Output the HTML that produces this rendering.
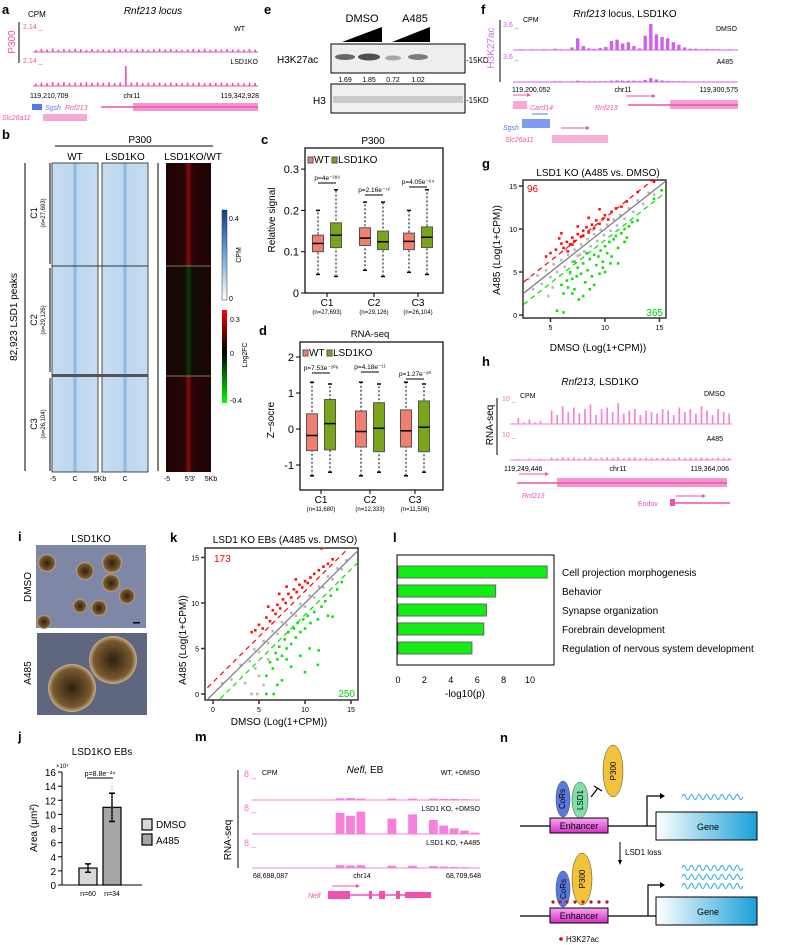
<!DOCTYPE html>
<html><head><meta charset="utf-8"><style>
body{margin:0;background:#fff}
svg{display:block;font-family:"Liberation Sans",sans-serif}
text{font-family:"Liberation Sans",sans-serif}
</style></head><body>
<svg id="fig" width="800" height="945" viewBox="0 0 800 945" xmlns="http://www.w3.org/2000/svg">
<defs>
<linearGradient id="cpmGrad" x1="0" y1="1" x2="0" y2="0"><stop offset="0" stop-color="#ffffff"/><stop offset="0.5" stop-color="#6fa8dc"/><stop offset="1" stop-color="#0b3f86"/></linearGradient>
<linearGradient id="fcGrad" x1="0" y1="1" x2="0" y2="0"><stop offset="0" stop-color="#00ff00"/><stop offset="0.55" stop-color="#000"/><stop offset="1" stop-color="#ff0000"/></linearGradient>
<linearGradient id="hmBlue" x1="0" x2="1"><stop offset="0" stop-color="#c7ddf1"/><stop offset="0.45" stop-color="#bdd7ef"/><stop offset="0.5" stop-color="#7fb2de"/><stop offset="0.55" stop-color="#bdd7ef"/><stop offset="1" stop-color="#c7ddf1"/></linearGradient>
<linearGradient id="hmRed" x1="0" x2="1"><stop offset="0" stop-color="#1c0303"/><stop offset="0.42" stop-color="#2a0505"/><stop offset="0.5" stop-color="#8a0c0c"/><stop offset="0.58" stop-color="#2a0505"/><stop offset="1" stop-color="#1c0303"/></linearGradient>
<linearGradient id="hmGreen" x1="0" x2="1"><stop offset="0" stop-color="#1a0604"/><stop offset="0.42" stop-color="#140d04"/><stop offset="0.5" stop-color="#0b3a0b"/><stop offset="0.58" stop-color="#140d04"/><stop offset="1" stop-color="#1a0604"/></linearGradient>
<linearGradient id="geneGrad" x1="0" x2="1"><stop offset="0" stop-color="#ffffff"/><stop offset="1" stop-color="#1aa0d8"/></linearGradient>
<linearGradient id="enhGrad" x1="0" y1="0" x2="0" y2="1"><stop offset="0" stop-color="#f7a8f0"/><stop offset="1" stop-color="#d42fc8"/></linearGradient>
<radialGradient id="ebGrad"><stop offset="0" stop-color="#2e2010"/><stop offset="0.8" stop-color="#7a5a30"/><stop offset="1" stop-color="#c8b088"/></radialGradient>
<clipPath id="clipG"><rect x="523" y="180" width="143" height="138"/></clipPath>
<clipPath id="clipK"><rect x="205" y="548" width="153" height="152"/></clipPath>
</defs>

<!-- Panel a -->
<g>
<text x="2" y="14" font-size="13" font-weight="bold">a</text>
<text x="28" y="17" font-size="8">CPM</text>
<text x="153" y="14" font-size="10" font-style="italic" text-anchor="middle">Rnf213 locus</text>
<line x1="19" y1="22" x2="19" y2="63" stroke="#000" stroke-width="1"/>
<text x="15" y="42" font-size="10" fill="#f0509a" transform="rotate(-90 15 42)" text-anchor="middle">P300</text>
<text x="23" y="29" font-size="7" fill="#f050b0">2.14 _</text>
<text x="245" y="31" font-size="7" text-anchor="end">WT</text>
<text x="23" y="63" font-size="7" fill="#f050b0">2.14 _</text>
<text x="258" y="64" font-size="7" text-anchor="end">LSD1KO</text>
<g id="trackA"></g>
<text x="30" y="98" font-size="7">119,210,709</text>
<text x="132" y="98" font-size="7" text-anchor="middle">chr11</text>
<text x="259" y="98" font-size="7" text-anchor="end">119,342,928</text>
<rect x="32" y="104" width="10" height="6" fill="#4f79f0"/>
<text x="45" y="110" font-size="7" font-style="italic" fill="#4f79f0">Sgsh</text>
<text x="65" y="110" font-size="7" font-style="italic" fill="#f050b0">Rnf213</text>
<line x1="101" y1="107" x2="258" y2="107" stroke="#f050b0" stroke-width="1.5"/>
<rect x="133" y="103" width="125" height="8" fill="#f050b0" opacity="0.6"/>
<text x="2" y="120" font-size="7" font-style="italic" fill="#f050b0">Slc26a11</text>
<rect x="43" y="114" width="44" height="7" fill="#f050b0" opacity="0.5"/>
</g>

<!-- Panel b -->
<g>
<text x="2" y="139" font-size="13" font-weight="bold">b</text>
<text x="140" y="143" font-size="10" text-anchor="middle">P300</text>
<line x1="55" y1="146" x2="213" y2="146" stroke="#000"/>
<text x="75" y="160" font-size="10" text-anchor="middle">WT</text>
<text x="125" y="160" font-size="10" text-anchor="middle">LSD1KO</text>
<text x="193" y="160" font-size="10" text-anchor="middle">LSD1KO/WT</text>
<rect x="52" y="163" width="46" height="309" fill="url(#hmBlue)" stroke="#222" stroke-width="0.8"/>
<rect x="102" y="163" width="46" height="309" fill="url(#hmBlue)" stroke="#222" stroke-width="0.8"/>
<rect x="166" y="163" width="45" height="103" fill="url(#hmRed)"/>
<rect x="166" y="266" width="45" height="110" fill="url(#hmGreen)"/>
<rect x="166" y="376" width="45" height="96" fill="url(#hmRed)"/>
<line x1="52" y1="266" x2="148" y2="266" stroke="#333" stroke-width="1"/>
<rect x="52" y="374" width="96" height="3" fill="#555"/>
<line x1="166" y1="266" x2="211" y2="266" stroke="#999" stroke-width="0.8"/>
<line x1="166" y1="376" x2="211" y2="376" stroke="#999" stroke-width="0.8"/>
<line x1="25" y1="163" x2="25" y2="471" stroke="#000" stroke-width="1"/>
<text x="17" y="317" font-size="10" text-anchor="middle" transform="rotate(-90 17 317)">82,923 LSD1 peaks</text>
<line x1="50" y1="163" x2="50" y2="264" stroke="#000"/>
<line x1="50" y1="268" x2="50" y2="372" stroke="#000"/>
<line x1="50" y1="378" x2="50" y2="471" stroke="#000"/>
<line x1="158" y1="163" x2="158" y2="471" stroke="#000"/>
<text x="37" y="213" font-size="9" text-anchor="middle" transform="rotate(-90 37 213)">C1</text>
<text x="45" y="213" font-size="6" text-anchor="middle" transform="rotate(-90 45 213)">(n=27,693)</text>
<text x="37" y="320" font-size="9" text-anchor="middle" transform="rotate(-90 37 320)">C2</text>
<text x="45" y="320" font-size="6" text-anchor="middle" transform="rotate(-90 45 320)">(n=29,126)</text>
<text x="37" y="424" font-size="9" text-anchor="middle" transform="rotate(-90 37 424)">C3</text>
<text x="45" y="424" font-size="6" text-anchor="middle" transform="rotate(-90 45 424)">(n=26,104)</text>
<g font-size="7">
<text x="53" y="481" text-anchor="middle">-5</text><text x="75" y="481" text-anchor="middle">C</text><text x="100" y="481" text-anchor="middle">5Kb</text><text x="125" y="481" text-anchor="middle">C</text>
<text x="167" y="481" text-anchor="middle">-5</text><text x="190" y="481" text-anchor="middle">5′3′</text><text x="211" y="481" text-anchor="middle">5Kb</text>
</g>
<rect x="222" y="210" width="5" height="90" fill="url(#cpmGrad)" stroke="#333" stroke-width="0.5"/>
<text x="229" y="221" font-size="7">0.4</text>
<text x="229" y="301" font-size="7">0</text>
<text x="241" y="255" font-size="7" text-anchor="middle" transform="rotate(-90 241 255)">CPM</text>
<rect x="222" y="310" width="5" height="93" fill="url(#fcGrad)"/>
<text x="230" y="322" font-size="7">0.3</text>
<text x="230" y="356" font-size="7">0</text>
<text x="230" y="403" font-size="7">-0.4</text>
<text x="247" y="355" font-size="7" text-anchor="middle" transform="rotate(-90 247 355)">Log2FC</text>
</g>

<!-- Panel c -->
<g id="panelC">
<text x="261" y="144" font-size="13" font-weight="bold">c</text>
<text x="373" y="144" font-size="10" text-anchor="middle">P300</text>
<rect x="305" y="148" width="138" height="145" fill="none" stroke="#000" stroke-width="1.2"/>
<text x="275" y="220" font-size="10" text-anchor="middle" transform="rotate(-90 275 220)">Relative signal</text>
</g>

<!-- Panel d -->
<g id="panelD">
<text x="259" y="335" font-size="13" font-weight="bold">d</text>
<text x="370" y="337" font-size="9.5" text-anchor="middle">RNA-seq</text>
<rect x="300" y="342" width="143" height="148" fill="none" stroke="#000" stroke-width="1.2"/>
<text x="274" y="420" font-size="10" text-anchor="middle" transform="rotate(-90 274 420)">Z−socre</text>
</g>

<!-- Panel e -->
<g>
<text x="264" y="14" font-size="13" font-weight="bold">e</text>
<text x="362" y="22" font-size="11" text-anchor="middle">DMSO</text>
<text x="415" y="22" font-size="11" text-anchor="middle">A485</text>
<polygon points="342,42 382,42 382,27" fill="#000"/>
<polygon points="392,42 430,42 430,27" fill="#000"/>
<rect x="331" y="44" width="134" height="29" fill="#eee" stroke="#000" stroke-width="1"/>
<ellipse cx="345" cy="57" rx="10" ry="3" fill="#444" opacity="0.8"/>
<ellipse cx="369" cy="57" rx="11" ry="3.5" fill="#333" opacity="0.85"/>
<ellipse cx="393" cy="58" rx="8" ry="2.5" fill="#777" opacity="0.6"/>
<ellipse cx="418" cy="57" rx="10" ry="3" fill="#555" opacity="0.75"/>
<text x="277" y="63" font-size="10">H3K27ac</text>
<text x="466" y="63" font-size="8">-15KD</text>
<g font-size="7" text-anchor="middle"><text x="345" y="82">1.69</text><text x="369" y="82">1.85</text><text x="393" y="82">0.72</text><text x="418" y="82">1.02</text></g>
<rect x="331" y="84" width="134" height="29" fill="#f0f0f0" stroke="#000" stroke-width="1"/>
<rect x="333" y="96" width="130" height="7" fill="#999" opacity="0.45"/>
<text x="313" y="104" font-size="10">H3</text>
<text x="466" y="103" font-size="8">-15KD</text>
</g>

<!-- Panel f -->
<g>
<text x="481" y="14" font-size="13" font-weight="bold">f</text>
<text x="625" y="17" font-size="10" text-anchor="middle"><tspan font-style="italic">Rnf213</tspan> locus, LSD1KO</text>
<text x="494" y="48" font-size="10" fill="#d070e8" text-anchor="middle" transform="rotate(-90 494 48)">H3K27ac</text>
<line x1="500" y1="20" x2="500" y2="82" stroke="#000"/>
<text x="503" y="27" font-size="7" fill="#c060e0">3.6 _</text>
<text x="523" y="22" font-size="7">CPM</text>
<text x="737" y="31" font-size="7" text-anchor="end">DMSO</text>
<text x="503" y="59" font-size="7" fill="#c060e0">3.6 _</text>
<text x="733" y="64" font-size="7" text-anchor="end">A485</text>
<g id="trackF"></g>
<text x="512" y="92" font-size="7">119,200,052</text>
<text x="623" y="92" font-size="7" text-anchor="middle">chr11</text>
<text x="738" y="92" font-size="7" text-anchor="end">119,300,575</text>
<g fill="#f050b0" stroke="#f050b0">
<line x1="513" y1="95" x2="527" y2="95" stroke-width="1"/><polygon points="527,93 531,95 527,97" stroke="none"/>
<rect x="513" y="101" width="14" height="8" opacity="0.5" stroke="none"/>
<line x1="626" y1="96" x2="652" y2="96"/><polygon points="652,94 656,96 652,98" stroke="none"/>
<line x1="628" y1="105" x2="738" y2="105" stroke-width="1.5"/>
<rect x="670" y="100" width="68" height="9" opacity="0.55" stroke="none"/>
<line x1="561" y1="128" x2="586" y2="128"/><polygon points="586,126 590,128 586,130" stroke="none"/>
<rect x="552" y="135" width="56" height="8" opacity="0.45" stroke="none"/>
</g>
<text x="530" y="110" font-size="7" font-style="italic" fill="#f050b0">Card14</text>
<text x="595" y="110" font-size="7" font-style="italic" fill="#f050b0">Rnf213</text>
<rect x="522" y="119" width="28" height="9" fill="#4f79f0" opacity="0.75"/>
<line x1="532" y1="114" x2="548" y2="114" stroke="#4f79f0"/>
<text x="503" y="130" font-size="7" font-style="italic" fill="#4f79f0">Sgsh</text>
<text x="505" y="142" font-size="7" font-style="italic" fill="#f050b0">Slc26a11</text>
</g>

<!-- Panel g -->
<g id="panelG">
<text x="482" y="168" font-size="13" font-weight="bold">g</text>
<text x="598" y="176" font-size="10" text-anchor="middle">LSD1 KO (A485 vs. DMSO)</text>
<text x="500" y="250" font-size="10" text-anchor="middle" transform="rotate(-90 500 250)">A485 (Log(1+CPM))</text>
<text x="598" y="351" font-size="10" text-anchor="middle">DMSO (Log(1+CPM))</text>
<text x="527" y="192" font-size="10" fill="#f00">96</text>
<text x="663" y="316" font-size="10" fill="#00d000" text-anchor="end">365</text>
</g>

<!-- Panel h -->
<g>
<text x="482" y="366" font-size="13" font-weight="bold">h</text>
<text x="600" y="385" font-size="10" text-anchor="middle"><tspan font-style="italic">Rnf213,</tspan> LSD1KO</text>
<text x="493" y="425" font-size="10" text-anchor="middle" transform="rotate(-90 493 425)">RNA-seq</text>
<line x1="497" y1="398" x2="497" y2="455" stroke="#000"/>
<text x="502" y="401" font-size="7" fill="#f070c0">10 _</text>
<text x="520" y="398" font-size="7">CPM</text>
<text x="725" y="396" font-size="7" text-anchor="end">DMSO</text>
<text x="502" y="437" font-size="7" fill="#f070c0">10 _</text>
<text x="723" y="441" font-size="7" text-anchor="end">A485</text>
<g id="trackH"></g>
<text x="504" y="471" font-size="7">119,249,446</text>
<text x="618" y="471" font-size="7" text-anchor="middle">chr11</text>
<text x="729" y="471" font-size="7" text-anchor="end">119,364,006</text>
<g fill="#f050b0" stroke="#f050b0">
<line x1="519" y1="474" x2="545" y2="474"/><polygon points="545,472 549,474 545,476" stroke="none"/>
<line x1="517" y1="483" x2="727" y2="483" stroke-width="1.5"/>
<rect x="557" y="478" width="170" height="9" opacity="0.6" stroke="none"/>
<line x1="676" y1="496" x2="702" y2="496"/><polygon points="702,494 706,496 702,498" stroke="none"/>
<rect x="670" y="499" width="5" height="7" stroke="none"/>
<line x1="675" y1="503" x2="730" y2="503" stroke-width="1.5"/>
</g>
<text x="522" y="498" font-size="7" font-style="italic" fill="#f050b0">Rnf213</text>
<text x="638" y="506" font-size="7" fill="#f050b0">Endov</text>
</g>

<!-- Panel i -->
<g>
<text x="18" y="541" font-size="13" font-weight="bold">i</text>
<text x="91" y="542" font-size="10" text-anchor="middle">LSD1KO</text>
<rect x="36" y="545" width="110" height="83" fill="#7e88a6"/>
<g fill="url(#ebGrad)">
<circle cx="47" cy="563" r="9"/><circle cx="85" cy="571" r="9"/><circle cx="112" cy="563" r="10"/><circle cx="111" cy="583" r="9"/><circle cx="127" cy="596" r="8"/><circle cx="80" cy="606" r="7"/><circle cx="99" cy="608" r="8"/><circle cx="44" cy="622" r="7"/>
</g>
<rect x="133" y="622" width="7" height="1.5" fill="#000"/>
<rect x="37" y="633" width="110" height="82" fill="#5f6680"/>
<g fill="url(#ebGrad)"><circle cx="72" cy="688" r="24"/><circle cx="113" cy="660" r="24"/></g>
<text x="31" y="587" font-size="10" text-anchor="middle" transform="rotate(-90 31 587)">DMSO</text>
<text x="31" y="673" font-size="10" text-anchor="middle" transform="rotate(-90 31 673)">A485</text>
</g>

<!-- Panel k -->
<g id="panelK">
<text x="170" y="542" font-size="13" font-weight="bold">k</text>
<text x="285" y="543" font-size="10" text-anchor="middle">LSD1 KO EBs (A485 vs. DMSO)</text>
<text x="186" y="640" font-size="10" text-anchor="middle" transform="rotate(-90 186 640)">A485 (Log(1+CPM))</text>
<text x="279" y="725" font-size="10" text-anchor="middle">DMSO (Log(1+CPM))</text>
<text x="214" y="562" font-size="10" fill="#f00">173</text>
<text x="355" y="697" font-size="10" fill="#00d000" text-anchor="end">250</text>
</g>

<!-- Panel l -->
<g id="panelL">
<text x="393" y="542" font-size="13" font-weight="bold">l</text>
<text x="465" y="697" font-size="10" text-anchor="middle">-log10(p)</text>
</g>

<!-- Panel j -->
<g id="panelJ">
<text x="18" y="741" font-size="13" font-weight="bold">j</text>
<text x="102" y="755" font-size="10" text-anchor="middle">LSD1KO EBs</text>
<text x="56" y="768" font-size="6">×10⁴</text>
<text x="37" y="828" font-size="10" text-anchor="middle" transform="rotate(-90 37 828)">Area (μm²)</text>
<rect x="142" y="819" width="10" height="11" fill="#d9d9d9" stroke="#000" stroke-width="1.2"/>
<text x="156" y="828" font-size="10">DMSO</text>
<rect x="142" y="834" width="10" height="11" fill="#a6a6a6" stroke="#000" stroke-width="1.2"/>
<text x="156" y="844" font-size="10">A485</text>
</g>

<!-- Panel m -->
<g>
<text x="195" y="741" font-size="13" font-weight="bold">m</text>
<text x="365" y="773" font-size="10" text-anchor="middle"><tspan font-style="italic">Nefl,</tspan> EB</text>
<text x="231" y="840" font-size="10" text-anchor="middle" transform="rotate(-90 231 840)">RNA-seq</text>
<line x1="238" y1="770" x2="238" y2="868" stroke="#000"/>
<text x="244" y="777" font-size="9" fill="#f070d0">8 _</text>
<text x="262" y="775" font-size="7">CPM</text>
<text x="244" y="811" font-size="9" fill="#f070d0">8 _</text>
<text x="244" y="846" font-size="9" fill="#f070d0">8 _</text>
<text x="480" y="775" font-size="7" text-anchor="end">WT, +DMSO</text>
<text x="480" y="811" font-size="7" text-anchor="end">LSD1 KO, +DMSO</text>
<text x="480" y="845" font-size="7" text-anchor="end">LSD1 KO, +A485</text>
<g id="trackM"></g>
<text x="253" y="878" font-size="7">68,698,087</text>
<text x="362" y="878" font-size="7" text-anchor="middle">chr14</text>
<text x="481" y="878" font-size="7" text-anchor="end">68,709,648</text>
<g fill="#f050b0" stroke="#f050b0">
<line x1="332" y1="886" x2="356" y2="886"/><polygon points="356,884 360,886 356,888" stroke="none"/>
<line x1="328" y1="895" x2="431" y2="895" stroke-width="1.5"/>
<rect x="328" y="891" width="22" height="8" stroke="none"/><rect x="369" y="891" width="3" height="8" stroke="none"/><rect x="379" y="891" width="6" height="8" stroke="none"/><rect x="396" y="891" width="4" height="8" stroke="none"/><rect x="405" y="892" width="26" height="6" stroke="none"/>
</g>
<text x="308" y="898" font-size="7" font-style="italic" fill="#f050b0">Nefl</text>
</g>

<!-- Panel n -->
<g>
<text x="500" y="742" font-size="13" font-weight="bold">n</text>
<line x1="520" y1="826" x2="656" y2="826" stroke="#000" stroke-width="1.2"/>
<ellipse cx="563" cy="799" rx="7" ry="18" fill="#5a78e0" stroke="#444" stroke-width="0.5"/>
<text x="565" y="799" font-size="8" text-anchor="middle" transform="rotate(-90 565 799)">CoRs</text>
<ellipse cx="580" cy="800" rx="8" ry="18" fill="#7fe0a8" stroke="#444" stroke-width="0.5"/>
<text x="583" y="800" font-size="8" text-anchor="middle" transform="rotate(-90 583 800)">LSD1</text>
<ellipse cx="613" cy="771" rx="10" ry="26" fill="#f2c23a" stroke="#444" stroke-width="0.5"/>
<text x="616" y="771" font-size="8" text-anchor="middle" transform="rotate(-90 616 771)">P300</text>
<line x1="591" y1="797" x2="598" y2="788" stroke="#000" stroke-width="1.2"/>
<line x1="594" y1="786" x2="602" y2="791" stroke="#000" stroke-width="1.2"/>
<rect x="550" y="818" width="58" height="15" fill="url(#enhGrad)" stroke="#000"/>
<text x="579" y="829" font-size="9" text-anchor="middle">Enhancer</text>
<polyline points="647,826 647,796 660,796" fill="none" stroke="#000" stroke-width="1.2"/>
<polygon points="660,793 665,796 660,799" fill="#000"/>
<rect x="656" y="812" width="101" height="28" fill="url(#geneGrad)" stroke="#000"/>
<text x="708" y="830" font-size="9" text-anchor="middle">Gene</text>
<g id="waves" fill="none" stroke="#21a8e8" stroke-width="1"></g>
<line x1="620" y1="842" x2="620" y2="862" stroke="#000"/>
<polygon points="618,860 620,865 622,860" fill="#000"/>
<text x="625" y="855" font-size="8">LSD1 loss</text>
<line x1="520" y1="916" x2="656" y2="916" stroke="#000" stroke-width="1.2"/>
<ellipse cx="563" cy="889" rx="7" ry="18" fill="#5a78e0" stroke="#444" stroke-width="0.5"/>
<text x="566" y="889" font-size="8" text-anchor="middle" transform="rotate(-90 566 889)">CoRs</text>
<ellipse cx="582" cy="879" rx="10" ry="26" fill="#f2c23a" stroke="#444" stroke-width="0.5"/>
<text x="585" y="879" font-size="8" text-anchor="middle" transform="rotate(-90 585 879)">P300</text>
<g fill="#e00" stroke="#555" stroke-width="0.5">
<circle cx="553" cy="902" r="1.5"/><circle cx="560" cy="902" r="1.5"/><circle cx="567" cy="902" r="1.5"/><circle cx="575" cy="902" r="1.5"/><circle cx="583" cy="902" r="1.5"/><circle cx="591" cy="902" r="1.5"/><circle cx="599" cy="902" r="1.5"/><circle cx="607" cy="902" r="1.5"/>
</g>
<rect x="550" y="908" width="58" height="15" fill="url(#enhGrad)" stroke="#000"/>
<text x="579" y="919" font-size="9" text-anchor="middle">Enhancer</text>
<polyline points="648,916 648,885 660,885" fill="none" stroke="#000" stroke-width="1.2"/>
<polygon points="660,882 665,885 660,888" fill="#000"/>
<rect x="656" y="897" width="101" height="28" fill="url(#geneGrad)" stroke="#000"/>
<text x="708" y="915" font-size="9" text-anchor="middle">Gene</text>
<circle cx="561" cy="939" r="1.8" fill="#e00"/>
<text x="566" y="942" font-size="8">H3K27ac</text>
</g>
</svg>

<script>
// ---- Panel c data (P300 boxplots): [min, q1, median, q3, max]
const cCategories = ["C1","C2","C3"];
const cCounts = ["(n=27,693)","(n=29,126)","(n=26,104)"];
const cWT = [[0.045,0.10,0.12,0.14,0.20],[0.055,0.115,0.133,0.158,0.22],[0.05,0.105,0.125,0.145,0.20]];
const cKO = [[0.04,0.11,0.14,0.17,0.25],[0.04,0.105,0.124,0.15,0.22],[0.045,0.11,0.135,0.16,0.25]];
const cPvals = ["p=4e⁻²⁸³","p=2.16e⁻⁷²","p=4.05e⁻⁶⁴"];
const cTicks = [0,0.1,0.2,0.3];
// ---- Panel d data (RNA-seq z-score)
const dCategories = ["C1","C2","C3"];
const dCounts = ["(n=11,680)","(n=12,333)","(n=11,506)"];
const dWT = [[-1.3,-0.6,-0.18,0.42,1.3],[-1.3,-0.5,-0.07,0.5,1.3],[-1.3,-0.5,-0.05,0.53,1.3]];
const dKO = [[-1.2,-0.58,0.15,0.82,1.25],[-1.2,-0.63,0.02,0.73,1.25],[-1.2,-0.63,0.05,0.78,1.25]];
const dPvals = ["p=7.53e⁻²⁰⁸","p=4.18e⁻¹¹","p=1.27e⁻²⁰"];
const dTicks = [-1,0,1,2];
// ---- Panel g scatter
const gTicks = [5,10,15];
const gYTicks = [0,5,10,15];
const gGrey = [[3,4.2],[3.4,3],[3.8,4.6],[4.2,3.6],[4.6,5.2],[5,4.4],[5.3,5.9],[5.6,5],[6,6.4],[6.3,5.6],[6.6,7],[7,6.2],[7.2,7.6],[7.5,6.9],[7.8,8.2],[8.1,7.4],[8.4,8.8],[8.7,8],[9,9.4],[9.3,8.6],[9.6,9.9],[9.9,9.3],[10.2,10.5],[10.5,9.8],[10.8,11.1],[11.1,10.4],[11.4,11.6],[11.8,11.2],[12.2,12.4],[12.6,12],[13,13.3],[13.5,12.9],[14,14.2],[14.5,14],[6.4,7.6],[7.7,7],[8.9,9.9],[5.2,3.2],[4.8,2.2],[6.8,4.8]];
const gUp = [[5,7.2],[5.5,7.6],[6,8.3],[6.2,7.8],[6.5,8.5],[6.8,8.2],[7,9],[7.2,8.6],[7.5,9.4],[7.8,9.1],[8,9.8],[8.3,10.2],[8.5,9.6],[8.8,10.5],[9,10.1],[9.2,11],[9.5,10.6],[9.8,11.2],[10,11.6],[10.3,11.1],[10.6,12],[11,12.4],[11.5,12.6],[12,13.2],[6,9.5],[7.5,10.3],[8.5,11.3],[5.8,8.9],[13,14.3],[14.5,15.5],[9.5,12.3],[7,8.2],[6.6,7.4],[8,9.2],[4.6,6.8]];
const gDown = [[6,3.5],[6.5,4],[6.2,2.5],[6.8,5],[7,4.2],[7.2,3],[7.5,5.5],[7.8,4.8],[8,6],[8.2,3.8],[8.4,5.2],[8.6,6.5],[8.8,4.5],[9,7],[9.2,5.8],[9.4,6.8],[9.6,7.5],[9.8,6.2],[10,8],[10.2,7.2],[10.4,8.5],[10.6,6.8],[10.8,8.8],[11,9.2],[11.2,7.8],[11.5,9.5],[11.8,10],[12,9],[12.2,10.3],[12.5,10.8],[13,11],[8,2.2],[7.6,1.8],[9,3.5],[6.2,0.3],[5.6,0.5],[10,5],[11.2,6],[14.5,13.5],[15.2,14.5],[9.5,4.8],[8.3,7.2],[7.2,6.2],[7,2.5],[8.6,3],[9.8,5.5],[10.5,6],[7.4,4.5],[6.6,3.2],[11.8,8.5]];
// ---- Panel k scatter
const kTicks = [0,5,10,15];
const kYTicks = [0,5,10,15];
const kGrey = [[1,1.2],[2,1.6],[3,3.2],[4,3.6],[4.5,4.9],[5,4.6],[5.5,5.8],[6,5.6],[6.5,6.9],[7,6.6],[7.5,7.9],[8,7.6],[8.5,8.9],[9,8.6],[9.5,9.9],[10,9.6],[10.5,10.8],[11,10.6],[11.5,11.8],[12,11.7],[12.5,12.9],[13,12.6],[13.5,13.8],[14,13.7],[14.5,14.7],[5,2],[5.5,1],[4.6,2.8],[4.2,0],[4.8,0],[6,3.8],[3.5,1.2]];
const kUp = [[4.2,6.8],[4.6,7],[5,7.6],[5.4,7.2],[5.8,8.4],[6.2,8],[6.5,9.2],[6.8,8.8],[7,9.8],[7.3,9.4],[7.6,10.4],[7.9,10],[8.2,11],[8.5,10.6],[8.8,11.5],[9.1,11.2],[9.4,12],[9.7,11.7],[10,12.4],[10.3,12.2],[10.6,12.8],[11,13.2],[11.5,13.6],[12,14],[12.5,14.3],[13,14.8],[7.2,11],[8,11.8],[9,12.6],[6,9.6],[11.8,16],[13.8,16.2]];
const kDown = [[5.8,2],[6.2,3.5],[6.5,2.8],[6.8,4.5],[7,3.8],[7.2,5.2],[7.5,4.2],[7.8,6],[8,5],[8.2,6.8],[8.5,5.5],[8.8,7.2],[9,6.2],[9.2,7.8],[9.5,6.8],[9.8,8.2],[10,7.2],[10.3,8.6],[10.6,7.8],[11,9],[11.4,8.2],[11.8,9.6],[12.2,10.2],[12.8,10.8],[13.5,11.5],[14,12.3],[9.5,4.2],[10.5,5],[11.5,4.8],[11.4,3.2],[8.5,3],[7.5,1.5],[10,2.4],[6.6,0],[5.8,0],[8,3.8],[12.5,8.6],[13,8.5],[7,1]];
// ---- Panel l data
const lTerms = ["Cell projection morphogenesis","Behavior","Synapse organization","Forebrain development","Regulation of nervous system development"];
const lValues = [11.3,7.4,6.7,6.5,5.6];
const lTicks = [0,2,4,6,8,10];
// ---- Panel j data
const jGroups = ["DMSO","A485"];
const jMeans = [2.4,11.0];
const jSD = [0.6,2.0];
const jN = ["n=60","n=34"];
const jTicks = [0,2,4,6,8,10,12,14,16];
// ---- Track peak heights (fraction of max)
const aWTpeaks = [0.08,0.12,0.1,0.14,0.09,0.12,0.1,0.13,0.11,0.09,0.12,0.1,0.11,0.09,0.13,0.1,0.12,0.11,0.1,0.12,0.09,0.11,0.13,0.1,0.12,0.1,0.09,0.11,0.12,0.1,0.13,0.09,0.11,0.1,0.12,0.1,0.11,0.09,0.12,0.1];
const aKOpeaks = [0.1,0.14,0.12,0.16,0.13,0.15,0.12,0.14,0.13,0.15,0.12,0.14,0.13,0.15,0.12,0.14,0.8,0.13,0.15,0.12,0.13,0.12,0.14,0.11,0.13,0.12,0.11,0.13,0.12,0.14,0.11,0.13,0.12,0.14,0.11,0.13,0.12,0.11,0.13,0.12];
const fDMSOpeaks = [0.02,0.03,0.02,0.03,0.02,0.03,0.02,0.05,0.03,0.02,0.1,0.45,0.15,0.06,0.04,0.08,0.12,0.35,0.4,0.25,0.3,0.15,0.06,0.55,1.0,0.6,0.5,0.45,0.3,0.2,0.1,0.05,0.05,0.03,0.04,0.03,0.03,0.02,0.03,0.02];
const fA485peaks = [0.02,0.02,0.02,0.02,0.02,0.02,0.02,0.03,0.03,0.02,0.03,0.05,0.03,0.03,0.03,0.03,0.03,0.05,0.06,0.05,0.05,0.05,0.04,0.08,0.15,0.1,0.06,0.04,0.03,0.03,0.03,0.02,0.02,0.02,0.02,0.02,0.02,0.02,0.02,0.02];
const hDMSOpeaks = [0.02,0.2,0.05,0.15,0.05,0.1,0.02,0.45,0.3,0.6,0.4,0.55,0.35,0.5,0.65,0.3,0.5,0.55,0.4,0.7,0.35,0.45,0.5,0.3,0.45,0.4,0.35,0.5,0.45,0.3,0.55,0.4,0.5,0.35,0.6,0.45,0.3,0.5,0.4,0.35];
const hA485peaks = [0.01,0.04,0.02,0.05,0.02,0.04,0.01,0.08,0.06,0.1,0.07,0.09,0.06,0.08,0.1,0.06,0.08,0.09,0.07,0.1,0.06,0.08,0.09,0.06,0.08,0.07,0.06,0.08,0.07,0.06,0.09,0.07,0.08,0.06,0.09,0.07,0.06,0.08,0.07,0.06];
const mWTpeaks = [0,0,0,0,0,0,0,0,0.06,0.07,0.05,0,0,0.05,0,0.05,0,0.05,0.04,0.04,0.03,0.02];
const mKOpeaks = [0,0,0,0,0,0,0,0,0.75,0.65,0.8,0,0,0.55,0,0.7,0,0.5,0.3,0.2,0.12,0.05];
const mA485peaks = [0,0,0,0,0,0,0,0,0.1,0.09,0.1,0,0,0.08,0,0.08,0,0.07,0.05,0.04,0.03,0.02];

const NS = "http://www.w3.org/2000/svg";
function mk(tag, parent){ const e = document.createElementNS(NS, tag); parent.appendChild(e); return e; }
function txt(parent, x, y, s, size, anchor){ const t = mk("text", parent); t.setAttribute("x", x); t.setAttribute("y", y); t.setAttribute("font-size", size); if(anchor) t.setAttribute("text-anchor", anchor); t.textContent = s; return t; }

// Tracks
function drawTrack(gid, peaks, x0, x1, base, maxH, color, name, wf){
  const g = document.getElementById(gid);
  const line = mk("line", g);
  
  
  line.setAttribute("x1", x0); line.setAttribute("x2", x1); line.setAttribute("y1", base); line.setAttribute("y2", base);
  line.setAttribute("stroke", color); line.setAttribute("stroke-width", 1);
  const w = (x1 - x0) / peaks.length;
  peaks.forEach((p, i) => {
    if (p <= 0) return;
    const r = mk("rect", g);
    
    
    r.setAttribute("x", x0 + i * w + w * (1 - wf) / 2); r.setAttribute("width", w * wf);
    r.setAttribute("y", base - p * maxH); r.setAttribute("height", p * maxH);
    r.setAttribute("fill", color);
  });
}
drawTrack("trackA", aWTpeaks, 33, 258, 52, 25, "#f050b0", "p300-wt-track", 0.3);
drawTrack("trackA", aKOpeaks, 33, 258, 86, 25, "#f050b0", "p300-ko-track", 0.3);
drawTrack("trackF", fDMSOpeaks, 513, 738, 50, 26, "#d060ee", "h3k27ac-dmso-track", 0.6);
drawTrack("trackF", fA485peaks, 513, 738, 82, 26, "#d060ee", "h3k27ac-a485-track", 0.6);
drawTrack("trackH", hDMSOpeaks, 510, 732, 424, 30, "#f880d0", "rnf213-dmso-track", 0.3);
drawTrack("trackH", hA485peaks, 510, 732, 460, 30, "#f880d0", "rnf213-a485-track", 0.3);
drawTrack("trackM", mWTpeaks, 252, 480, 800, 28, "#f880dc", "nefl-wt-track", 0.85);
drawTrack("trackM", mKOpeaks, 252, 480, 834, 28, "#f880dc", "nefl-ko-dmso-track", 0.85);
drawTrack("trackM", mA485peaks, 252, 480, 868, 28, "#f880dc", "nefl-ko-a485-track", 0.85);

// Box plot helper
function drawBoxes(gid, cats, counts, wt, ko, pvals, ticks, yfn, centers, frameX, frameBottom, pY, legY, nm){
  const g = document.getElementById(gid);
  ticks.forEach(t => {
    const tk = mk("line", g);
    
    
    tk.setAttribute("x1", frameX - 4); tk.setAttribute("x2", frameX); tk.setAttribute("y1", yfn(t)); tk.setAttribute("y2", yfn(t)); tk.setAttribute("stroke", "#000");
    const tl = txt(g, frameX - 6, yfn(t) + 4, String(t), 11, "end");
    
    
  });
  const series = [[wt, "#f07f72", -9], [ko, "#7aa51a", 9]];
  cats.forEach((c, i) => {
    series.forEach(([data, col, off]) => {
      const s = data[i]; const cx = centers[i] + off; const w = 11;
      const wh = mk("line", g);
      
      
      wh.setAttribute("x1", cx); wh.setAttribute("x2", cx); wh.setAttribute("y1", yfn(s[0])); wh.setAttribute("y2", yfn(s[4]));
      wh.setAttribute("stroke", "#000"); wh.setAttribute("stroke-dasharray", "2,2");
      [s[0], s[4]].forEach(v => {
        const cap = mk("line", g);
        
        
        cap.setAttribute("x1", cx - 2); cap.setAttribute("x2", cx + 2); cap.setAttribute("y1", yfn(v)); cap.setAttribute("y2", yfn(v)); cap.setAttribute("stroke", "#000"); cap.setAttribute("stroke-width", 1.5);
      });
      const b = mk("rect", g);
      
      
      b.setAttribute("x", cx - w / 2); b.setAttribute("width", w); b.setAttribute("y", yfn(s[3])); b.setAttribute("height", yfn(s[1]) - yfn(s[3]));
      b.setAttribute("fill", col); b.setAttribute("stroke", "#555");
      const m = mk("line", g);
      
      
      m.setAttribute("x1", cx - w / 2); m.setAttribute("x2", cx + w / 2); m.setAttribute("y1", yfn(s[2])); m.setAttribute("y2", yfn(s[2])); m.setAttribute("stroke", "#000"); m.setAttribute("stroke-width", 1.5);
    });
    const pl = txt(g, centers[i], pY[i], pvals[i], 6.5, "middle");
    
    
    const pline = mk("line", g);
    
    
    pline.setAttribute("x1", centers[i] - 9); pline.setAttribute("x2", centers[i] + 9); pline.setAttribute("y1", pY[i] + 3); pline.setAttribute("y2", pY[i] + 3); pline.setAttribute("stroke", "#000");
    const xt = mk("line", g);
    
    
    xt.setAttribute("x1", centers[i]); xt.setAttribute("x2", centers[i]); xt.setAttribute("y1", frameBottom); xt.setAttribute("y2", frameBottom + 4); xt.setAttribute("stroke", "#000");
    const cl = txt(g, centers[i], frameBottom + 13, c, 10, "middle");
    
    
    const nl = txt(g, centers[i], frameBottom + 21, counts[i], 6, "middle");
    
    
  });
  const l1 = mk("rect", g);
  
  
  l1.setAttribute("x", frameX + 3); l1.setAttribute("y", legY - 6); l1.setAttribute("width", 5); l1.setAttribute("height", 6); l1.setAttribute("fill", "#f07f72"); l1.setAttribute("stroke", "#555");
  const lt1 = txt(g, frameX + 9, legY, "WT", 10);
  
  
  const l2 = mk("rect", g);
  
  
  l2.setAttribute("x", frameX + 27); l2.setAttribute("y", legY - 6); l2.setAttribute("width", 5); l2.setAttribute("height", 6); l2.setAttribute("fill", "#7aa51a"); l2.setAttribute("stroke", "#555");
  const lt2 = txt(g, frameX + 33, legY, "LSD1KO", 10);
  
  
}
const yC = v => 293 - v * 413;
const yD = v => 429 - v * 36;
drawBoxes("panelC", cCategories, cCounts, cWT, cKO, cPvals, cTicks, yC, [327, 374, 418], 305, 293, [180, 192, 184], 163, "box-c");
drawBoxes("panelD", dCategories, dCounts, dWT, dKO, dPvals, dTicks, yD, [321, 370, 415], 300, 490, [370, 369, 376], 356, "box-d");

// Scatter helper
function drawScatter(gid, clip, xfn, yfn, frame, xt, yt, grey, up, down, off, nm){
  const g = document.getElementById(gid);
  const f = mk("rect", g);
  
  
  f.setAttribute("x", frame[0]); f.setAttribute("y", frame[1]); f.setAttribute("width", frame[2] - frame[0]); f.setAttribute("height", frame[3] - frame[1]);
  f.setAttribute("fill", "none"); f.setAttribute("stroke", "#333"); f.setAttribute("stroke-width", 1.5);
  const inner = mk("g", g); inner.setAttribute("clip-path", "url(#" + clip + ")");
  const pts = [[grey, "#b8b8b8", "grey-point"], [up, "#ff1010", "up-point"], [down, "#10e010", "down-point"]];
  pts.forEach(([arr, col, pn]) => arr.forEach(p => {
    const c = mk("rect", inner);
    
    
    c.setAttribute("x", xfn(p[0]) - 1.3); c.setAttribute("y", yfn(p[1]) - 1.3); c.setAttribute("width", 2.6); c.setAttribute("height", 2.6); c.setAttribute("fill", col);
  }));
  [[0, "#777", null], [off, "#f00", "5,4"], [-off, "#0d0", "5,4"]].forEach(([o, col, dash]) => {
    const l = mk("line", inner);
    
    
    l.setAttribute("x1", xfn(-2)); l.setAttribute("y1", yfn(-2 + o)); l.setAttribute("x2", xfn(18)); l.setAttribute("y2", yfn(18 + o));
    l.setAttribute("stroke", col); l.setAttribute("stroke-width", 1.2); if (dash) l.setAttribute("stroke-dasharray", dash);
  });
  xt.forEach(t => {
    const tk = mk("line", g);
    
    
    tk.setAttribute("x1", xfn(t)); tk.setAttribute("x2", xfn(t)); tk.setAttribute("y1", frame[3]); tk.setAttribute("y2", frame[3] + 4); tk.setAttribute("stroke", "#333"); tk.setAttribute("stroke-width", 1.5);
    const tl = txt(g, xfn(t), frame[3] + 12, String(t), 7, "middle");
    
    
  });
  yt.forEach(t => {
    const tk = mk("line", g);
    
    
    tk.setAttribute("x1", frame[0] - 4); tk.setAttribute("x2", frame[0]); tk.setAttribute("y1", yfn(t)); tk.setAttribute("y2", yfn(t)); tk.setAttribute("stroke", "#333"); tk.setAttribute("stroke-width", 1.5);
    const tl = txt(g, frame[0] - 6, yfn(t) + 3, String(t), 7, "end");
    
    
  });
}
const xG = v => 496 + v * 10.9, yG = v => 315 - v * 8.6;
drawScatter("panelG", "clipG", xG, yG, [523, 180, 666, 318], gTicks, gYTicks, gGrey, gUp, gDown, 1.3, "scatter-g");
const xK = v => 213 + v * 9.2, yK = v => 694 - v * 9.1;
drawScatter("panelK", "clipK", xK, yK, [205, 548, 358, 700], kTicks, kYTicks, kGrey, kUp, kDown, 1.3, "scatter-k");

// Panel l bars
(function(){
  const g = document.getElementById("panelL");
  const xL = v => 398 + v * 13.2;
  const fr = mk("rect", g);
  
  
  fr.setAttribute("x", 397); fr.setAttribute("y", 555); fr.setAttribute("width", 157); fr.setAttribute("height", 110); fr.setAttribute("fill", "none"); fr.setAttribute("stroke", "#000");
  lTerms.forEach((t, i) => {
    const y = 566 + i * 19;
    const b = mk("rect", g);
    
    
    b.setAttribute("x", xL(0)); b.setAttribute("y", y); b.setAttribute("width", xL(lValues[i]) - xL(0)); b.setAttribute("height", 12);
    b.setAttribute("fill", "#11ee11"); b.setAttribute("stroke", "#666");
    const tl = txt(g, 562, y + 10, t, 10);
    
    
  });
  lTicks.forEach(t => {
    const tl = txt(g, xL(t), 683, String(t), 9, "middle");
    
    
  });
})();

// Panel j bars
(function(){
  const g = document.getElementById("panelJ");
  const yJ = v => 885 - v * 7.06;
  const ax = mk("polyline", g);
  
  
  ax.setAttribute("points", "62,772 62,885 142,885"); ax.setAttribute("fill", "none"); ax.setAttribute("stroke", "#000");
  jTicks.forEach(t => {
    const tk = mk("line", g);
    
    
    tk.setAttribute("x1", 58); tk.setAttribute("x2", 62); tk.setAttribute("y1", yJ(t)); tk.setAttribute("y2", yJ(t)); tk.setAttribute("stroke", "#000");
    const tl = txt(g, 56, yJ(t) + 4, String(t), 10, "end");
    
    
  });
  const cols = ["#d9d9d9", "#a6a6a6"];
  const xs = [79, 103];
  jGroups.forEach((gname, i) => {
    const b = mk("rect", g);
    
    
    b.setAttribute("x", xs[i]); b.setAttribute("width", 18); b.setAttribute("y", yJ(jMeans[i])); b.setAttribute("height", yJ(0) - yJ(jMeans[i]));
    b.setAttribute("fill", cols[i]); b.setAttribute("stroke", "#000"); b.setAttribute("stroke-width", 1.2);
    const cx = xs[i] + 9;
    const e = mk("line", g);
    
    
    e.setAttribute("x1", cx); e.setAttribute("x2", cx); e.setAttribute("y1", yJ(jMeans[i] - jSD[i])); e.setAttribute("y2", yJ(jMeans[i] + jSD[i])); e.setAttribute("stroke", "#000"); e.setAttribute("stroke-width", 1.5);
    [jMeans[i] - jSD[i], jMeans[i] + jSD[i]].forEach(v => {
      const c = mk("line", g);
      
      
      c.setAttribute("x1", cx - 3); c.setAttribute("x2", cx + 3); c.setAttribute("y1", yJ(v)); c.setAttribute("y2", yJ(v)); c.setAttribute("stroke", "#000"); c.setAttribute("stroke-width", 1.5);
    });
    const dots = mk("line", g);
    
    
    dots.setAttribute("x1", cx); dots.setAttribute("x2", cx); dots.setAttribute("y1", yJ(jMeans[i] - jSD[i] * 1.1)); dots.setAttribute("y2", yJ(jMeans[i] + jSD[i] * 1.7)); dots.setAttribute("stroke", "#e04010"); dots.setAttribute("stroke-width", 1); dots.setAttribute("stroke-dasharray", "1,2");
    const nl = txt(g, cx, 896, jN[i], 7, "middle");
    
    
  });
  const pl = txt(g, 100, 776, "p=8.8e⁻²⁴", 7, "middle");
  
  
  const pb = mk("line", g);
  
  
  pb.setAttribute("x1", 87); pb.setAttribute("x2", 113); pb.setAttribute("y1", 778); pb.setAttribute("y2", 778); pb.setAttribute("stroke", "#000");
})();

// Waves in panel n
(function(){
  const g = document.getElementById("waves");
  [797, 868, 877, 886].forEach(y => {
    let d = "M682," + y;
    for (let i = 0; i < 8; i++) { const x = 682 + i * 7.6; d += " Q" + (x + 1.9) + "," + (y - 5) + " " + (x + 3.8) + "," + y + " T" + (x + 7.6) + "," + y; }
    const p = mk("path", g);
    
    
    p.setAttribute("d", d);
  });
})();
</script>
</body></html>
